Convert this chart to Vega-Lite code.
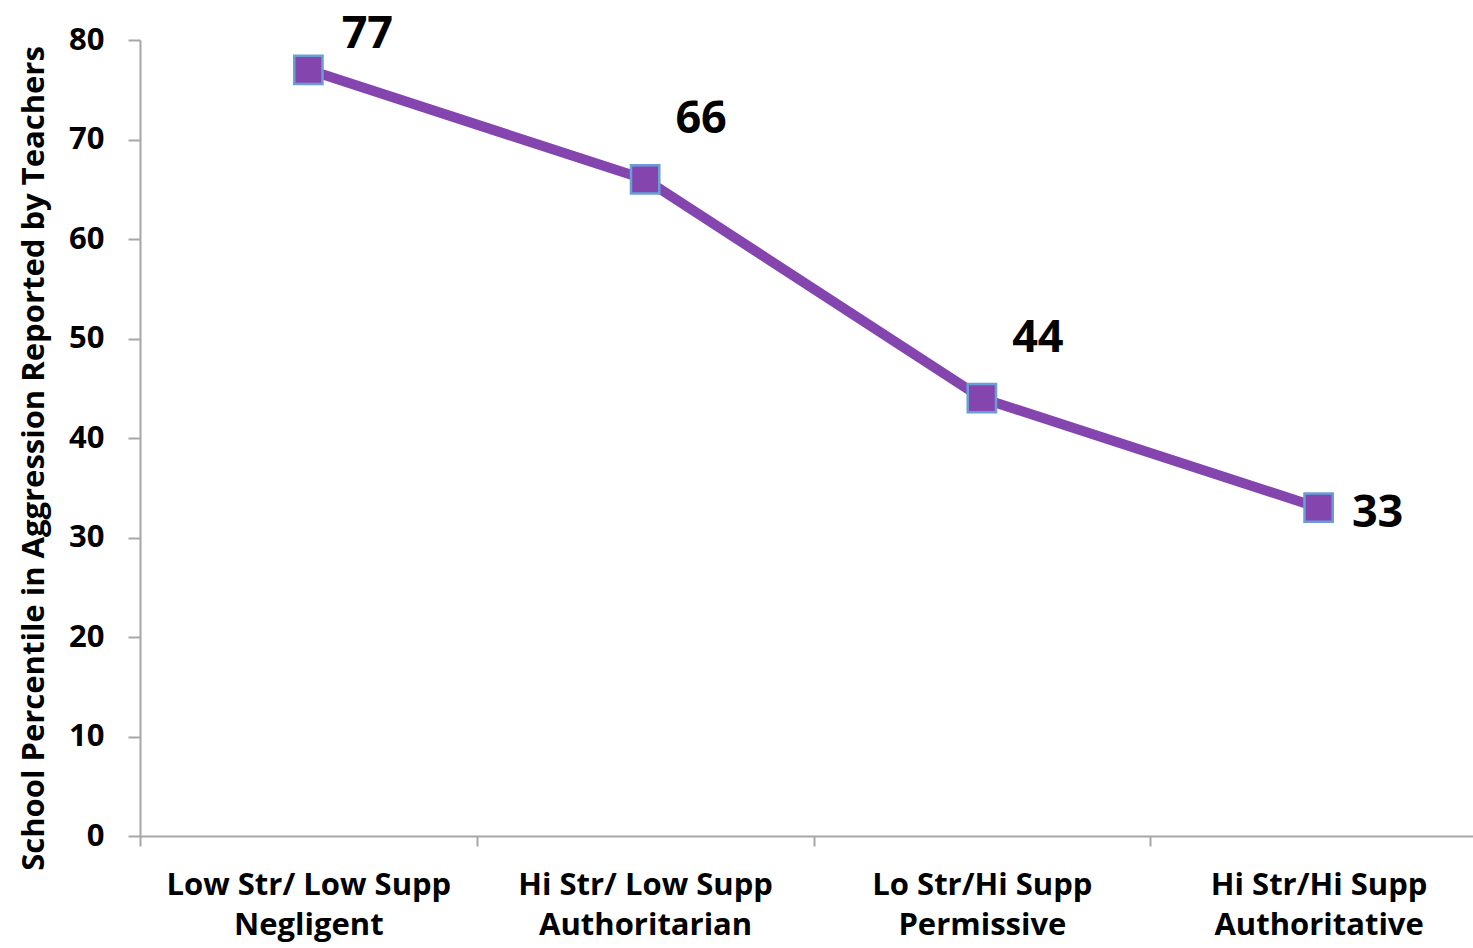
{
  "$schema": "https://vega.github.io/schema/vega-lite/v6.json",
  "autosize": {"type": "none"},
  "padding": {"left": 140, "top": 40, "right": 0, "bottom": 112},
  "width": 1333,
  "height": 796,
  "background": "white",
  "config": {
    "view": {"stroke": null},
    "font": "Open Sans"
  },
  "data": {
    "values": [
      {"style": "Low Str/ Low Supp|Negligent", "pct": 77},
      {"style": "Hi Str/ Low Supp|Authoritarian", "pct": 66},
      {"style": "Lo Str/Hi Supp|Permissive", "pct": 44},
      {"style": "Hi Str/Hi Supp|Authoritative", "pct": 33}
    ]
  },
  "encoding": {
    "x": {
      "field": "style",
      "type": "nominal",
      "sort": null,
      "scale": {"type": "band", "paddingInner": 0, "paddingOuter": 0, "range": [0, 1347]},
      "axis": {
        "title": null,
        "labelAngle": 0,
        "tickBand": "extent",
        "labelExpr": "isValid(datum.value) ? split(datum.value, '|') : ''",
        "labelLimit": 0,
        "labelFont": "Open Sans",
        "labelFontWeight": "bold",
        "labelFontSize": 31,
        "labelColor": "black",
        "labelLineHeight": 40,
        "labelPadding": 24,
        "labelBaseline": "top",
        "tickSize": 10,
        "tickColor": "#a6a6a6",
        "domainColor": "#a6a6a6",
        "domainWidth": 2,
        "tickWidth": 2
      }
    },
    "y": {
      "field": "pct",
      "type": "quantitative",
      "scale": {"domain": [0, 80], "nice": false, "zero": true},
      "axis": {
        "title": "School Percentile in Aggression Reported by Teachers",
        "titleFont": "Open Sans",
        "titleFontWeight": "bold",
        "titleFontSize": 31,
        "titleColor": "black",
        "titlePadding": 18,
        "titleY": 418,
        "values": [0, 10, 20, 30, 40, 50, 60, 70, 80],
        "grid": false,
        "labelFont": "Open Sans",
        "labelFontWeight": "bold",
        "labelFontSize": 31,
        "labelColor": "black",
        "labelPadding": 24,
        "tickSize": 12,
        "tickColor": "#a6a6a6",
        "domainColor": "#a6a6a6",
        "domainWidth": 2,
        "tickWidth": 2
      }
    }
  },
  "layer": [
    {
      "mark": {"type": "line", "color": "#8446ae", "strokeWidth": 10}
    },
    {
      "mark": {"type": "point", "shape": "square", "size": 800, "filled": true, "fill": "#8446ae", "stroke": "#6a9fd6", "strokeWidth": 2.5, "opacity": 1}
    },
    {
      "transform": [{"filter": "datum.pct == 77"}],
      "mark": {"type": "text", "fontSize": 45, "fontWeight": "bold", "font": "Open Sans", "color": "black", "dx": 59, "dy": -36},
      "encoding": {"text": {"field": "pct", "type": "quantitative"}}
    },
    {
      "transform": [{"filter": "datum.pct == 66 || datum.pct == 44"}],
      "mark": {"type": "text", "fontSize": 45, "fontWeight": "bold", "font": "Open Sans", "color": "black", "dx": 56, "dy": -60},
      "encoding": {"text": {"field": "pct", "type": "quantitative"}}
    },
    {
      "transform": [{"filter": "datum.pct == 33"}],
      "mark": {"type": "text", "fontSize": 45, "fontWeight": "bold", "font": "Open Sans", "color": "black", "dx": 59, "dy": 5},
      "encoding": {"text": {"field": "pct", "type": "quantitative"}}
    }
  ]
}
